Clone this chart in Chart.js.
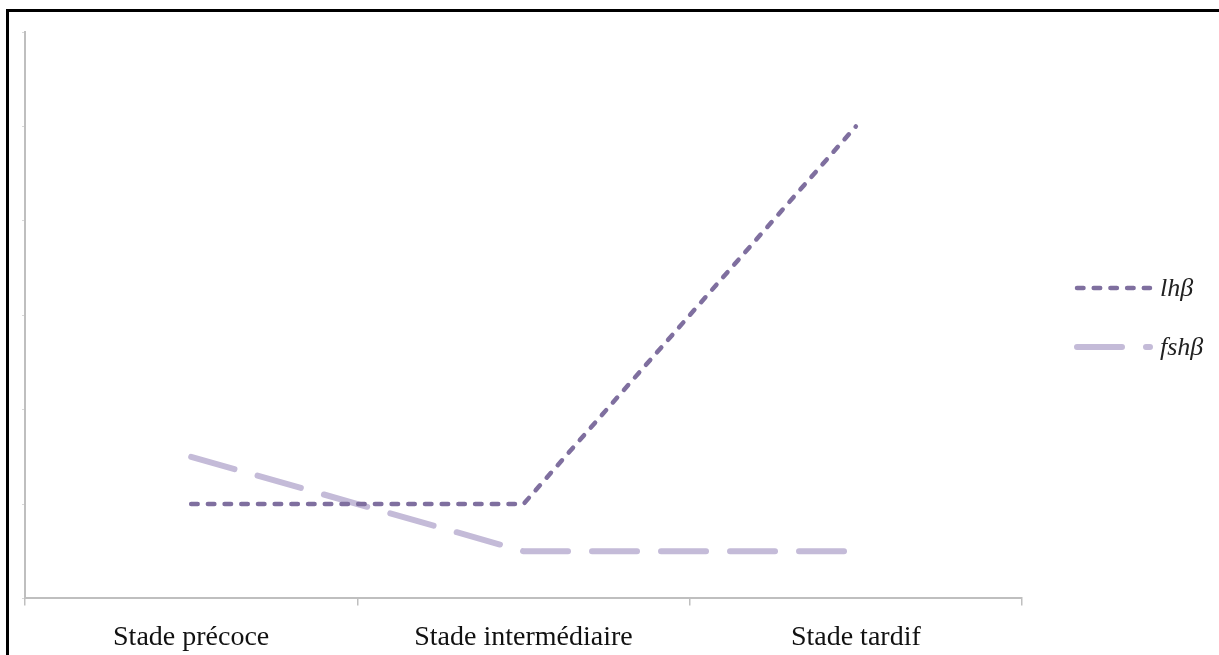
<!DOCTYPE html>
<html>
<head>
<meta charset="utf-8">
<script src="https://cdn.jsdelivr.net/npm/chart.js@4/dist/chart.umd.min.js"></script>
<style>
  body { margin: 0; background: #fff; overflow: hidden; }
  #cadre { position: absolute; left: 6px; top: 9px; width: 1220px; height: 660px; border-top: 3px solid #000; border-left: 3px solid #000; }
  #zone { position: absolute; left: 0; top: 0; width: 1219px; height: 669px; }
</style>
</head>
<body>
<div id="cadre"></div>
<div id="zone"><canvas id="graphique"></canvas></div>
<script>
// Données du graphique
const stades = ["Stade précoce", "Stade intermédiaire", "Stade tardif"];
const valeursLh = [1, 1, 5];
const valeursFsh = [1.5, 0.5, 0.5];
const graduationsY = [0, 1, 2, 3, 4, 5, 6];

const couleurLh = "#7f6f9f";
const couleurFsh = "#c4bbd8";
const gris = "#bfbfbf";
const police = "'Liberation Serif', 'Times New Roman', serif";

// Légende dessinée à la main (les pointillés ne passent pas dans la légende native)
const legendeMaison = {
  id: "legendeMaison",
  afterDraw(chart) {
    const ctx = chart.ctx;
    const x0 = 1077;
    const longueur = 73;
    const lignesY = [288, 347];
    chart.data.datasets.forEach((ds, i) => {
      const y = lignesY[i];
      ctx.save();
      ctx.strokeStyle = ds.borderColor;
      ctx.lineWidth = ds.borderWidth;
      ctx.lineCap = ds.borderCapStyle;
      ctx.setLineDash(ds.borderDash);
      ctx.beginPath();
      ctx.moveTo(x0, y);
      ctx.lineTo(x0 + longueur, y);
      ctx.stroke();
      ctx.setLineDash([]);
      ctx.fillStyle = "#222";
      ctx.font = "italic 26px " + police;
      ctx.textBaseline = "middle";
      ctx.fillText(ds.label, x0 + longueur + 10, y + 1);
      ctx.restore();
    });
  },
};

const graphique = document.getElementById("graphique");

const chart = new Chart(graphique, {
  type: "line",
  data: {
    labels: stades,
    datasets: [
      {
        label: "lhβ",
        data: valeursLh,
        borderColor: couleurLh,
        borderWidth: 4.5,
        borderDash: [6.5, 10.2],
        borderCapStyle: "round",
        pointRadius: 0,
        tension: 0,
      },
      {
        label: "fshβ",
        data: valeursFsh,
        borderColor: couleurFsh,
        borderWidth: 6,
        borderDash: [45, 24],
        borderCapStyle: "round",
        pointRadius: 0,
        tension: 0,
      },
    ],
  },
  options: {
    responsive: true,
    maintainAspectRatio: false,
    animation: false,
    layout: { padding: { left: 22, top: 32, right: 197, bottom: 0 } },
    plugins: {
      tooltip: { enabled: false },
      legend: { display: false },
    },
    scales: {
      x: {
        offset: true,
        grid: {
          offset: true,
          drawOnChartArea: false,
          color: gris,
          lineWidth: 1.5,
          tickLength: 7,
        },
        border: { color: gris, width: 2 },
        ticks: {
          color: "#111",
          padding: 15,
          font: { family: police, size: 28 },
        },
      },
      y: {
        min: 0,
        max: 6,
        afterBuildTicks: (axe) => {
          axe.ticks = graduationsY.map((v) => ({ value: v }));
        },
        grid: {
          drawOnChartArea: false,
          color: "#d8d8d8",
          lineWidth: 1,
          tickLength: 3,
        },
        border: { color: gris, width: 2 },
        ticks: { display: false },
      },
    },
  },
  plugins: [legendeMaison],
});
</script>
</body>
</html>
